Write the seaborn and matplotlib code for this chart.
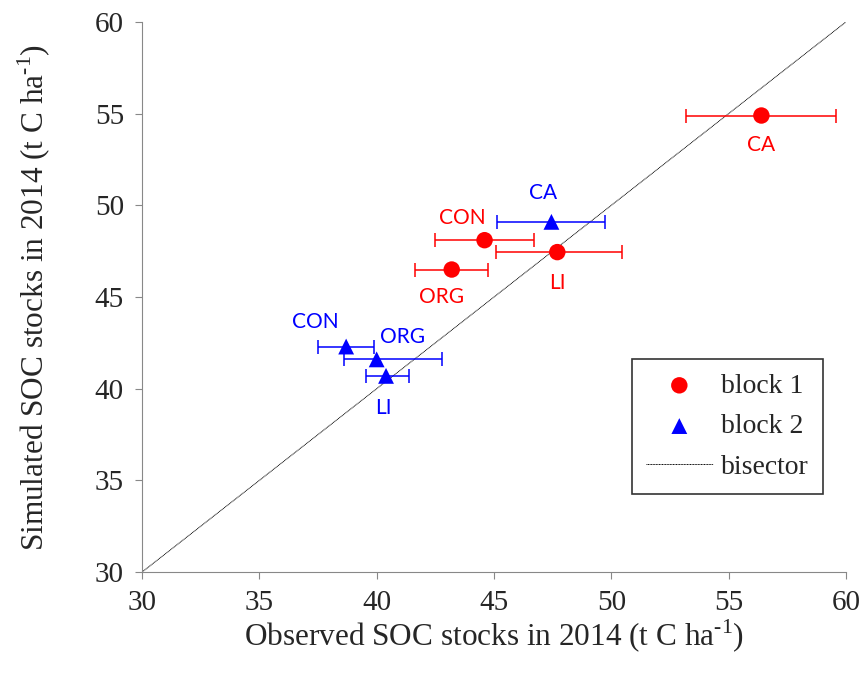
import numpy as np
import pandas as pd
import matplotlib
matplotlib.use("Agg")
import matplotlib.pyplot as plt
import seaborn as sns

# valori (t C ha-1)
treatments_b1 = ["CA", "CON", "LI", "ORG"]
obs_b1 = [56.4, 44.6, 47.7, 43.2]
sim_b1 = [54.9, 48.1, 47.45, 46.5]
err_lo_b1 = [3.2, 2.1, 2.6, 1.55]
err_hi_b1 = [3.2, 2.1, 2.75, 1.55]

treatments_b2 = ["CA", "CON", "ORG", "LI"]
obs_b2 = [47.45, 38.7, 40.0, 40.4]
sim_b2 = [49.1, 42.3, 41.6, 40.7]
err_lo_b2 = [2.3, 1.2, 1.4, 0.85]
err_hi_b2 = [2.3, 1.2, 2.8, 1.0]

# offset delle etichette (punti tipografici)
offs_b1 = [(0, -21), (-16, 16), (0, -22), (-7, -20)]
offs_b2 = [(-6, 21), (-22, 18), (19, 16), (-2, -23)]

bisector = [30, 60]

sns.set_style("white")
plt.rcParams["font.family"] = ["Liberation Serif", "DejaVu Serif"]
plt.rcParams["mathtext.fontset"] = "custom"
plt.rcParams["mathtext.rm"] = "Liberation Serif"
plt.rcParams["axes.unicode_minus"] = False

df1 = pd.DataFrame({"obs": obs_b1, "sim": sim_b1, "trt": treatments_b1})
df2 = pd.DataFrame({"obs": obs_b2, "sim": sim_b2, "trt": treatments_b2})

fig = plt.figure(figsize=(8.64, 6.77), dpi=100)
ax = fig.add_axes([0.1644, 0.155, 0.8146, 0.8125])

ax.errorbar(obs_b1, sim_b1, xerr=[err_lo_b1, err_hi_b1], fmt="none",
            ecolor="red", elinewidth=1.1, capsize=5, capthick=1.1, zorder=2)
ax.errorbar(obs_b2, sim_b2, xerr=[err_lo_b2, err_hi_b2], fmt="none",
            ecolor="blue", elinewidth=1.1, capsize=5, capthick=1.1, zorder=2)

sns.scatterplot(data=df1, x="obs", y="sim", marker="o", color="red", s=140,
                edgecolor="none", label="block 1", ax=ax, zorder=3)
sns.scatterplot(data=df2, x="obs", y="sim", marker="^", color="blue", s=130,
                edgecolor="none", label="block 2", ax=ax, zorder=3)
sns.lineplot(x=bisector, y=bisector, color="black", lw=0.7, ls=(0, (1, 0.6)),
             label="bisector", ax=ax, zorder=1)

for x, y, t, o in zip(obs_b1, sim_b1, treatments_b1, offs_b1):
    ax.annotate(t, (x, y), xytext=o, textcoords="offset points", ha="center",
                va="center", color="red", fontsize=15, family=["Lato", "DejaVu Sans"])
for x, y, t, o in zip(obs_b2, sim_b2, treatments_b2, offs_b2):
    ax.annotate(t, (x, y), xytext=o, textcoords="offset points", ha="center",
                va="center", color="blue", fontsize=15, family=["Lato", "DejaVu Sans"])

ax.set_xlim(30, 60)
ax.set_ylim(30, 60)
ax.set_xticks(range(30, 61, 5))
ax.set_yticks(range(30, 61, 5))
ax.tick_params(labelsize=21, direction="out", length=5, width=0.8, color="#888888",
               bottom=True, left=True, pad=8)
for s in ["top", "right"]:
    ax.spines[s].set_visible(False)
for s in ["left", "bottom"]:
    ax.spines[s].set_color("#888888")
    ax.spines[s].set_linewidth(0.8)

unit = "(t C ha$^{\\text{-}1}$)"
ax.set_xlabel("Observed SOC stocks in 2014 " + unit, fontsize=22.5, labelpad=1)
ax.set_ylabel("Simulated SOC stocks in 2014 " + unit, fontsize=22.5, labelpad=30)

leg = ax.legend(loc="lower right", bbox_to_anchor=(0.967, 0.142), borderaxespad=0,
                fontsize=20, frameon=True, fancybox=False, edgecolor="black",
                handlelength=2.4, handletextpad=0.3, labelspacing=0.55,
                borderpad=0.5, markerscale=1.0)
leg.get_frame().set_linewidth(1.2)

fig.savefig("out.png", dpi=100)
